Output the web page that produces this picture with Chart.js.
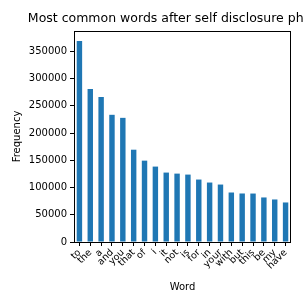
<!DOCTYPE html>
<html>
<head>
<meta charset="utf-8">
<script src="https://cdn.jsdelivr.net/npm/chart.js@4/dist/chart.umd.min.js"></script>
<style>
  html, body { margin: 0; padding: 0; background: #fff; }
  #wrap { width: 303px; height: 303px; }
</style>
</head>
<body>
<div id="wrap"><canvas id="wordChart" width="303" height="303"></canvas></div>
<script>
var words = ['to', 'the', 'a', 'and', 'you', 'that', 'of', 'i', 'it', 'not',
             'is', 'for', 'in', 'your', 'with', 'but', 'this', 'be', 'my', 'have'];
var frequency = [369000, 281000, 266500, 233600, 228000, 169500, 149400, 138500, 127500, 125600,
                 123800, 114700, 109200, 105500, 90900, 89100, 89000, 81800, 78100, 72600];
var yTicks = [0, 50000, 100000, 150000, 200000, 250000, 300000, 350000];
var chartTitle = 'Most common words after self disclosure phrases';

var fontFamily = "'DejaVu Sans', sans-serif";

// frame + title centred over the axes, like matplotlib
var framePlugin = {
  id: 'frame',
  afterDraw: function(chart) {
    var ctx = chart.ctx, a = chart.chartArea;
    ctx.save();
    ctx.strokeStyle = '#000';
    ctx.lineWidth = 1;
    ctx.strokeRect(Math.round(a.left) + 0.5, Math.round(a.top) + 0.5,
                   Math.round(a.right - a.left) - 1, Math.round(a.bottom - a.top));
    ctx.fillStyle = '#000';
    ctx.font = '12.5px ' + fontFamily;
    ctx.textAlign = 'center';
    ctx.textBaseline = 'alphabetic';
    ctx.fillText(chartTitle, (a.left + a.right) / 2, 22);
    ctx.restore();
  }
};

new Chart(document.getElementById('wordChart').getContext('2d'), {
  type: 'bar',
  data: {
    labels: words,
    datasets: [{
      data: frequency,
      backgroundColor: '#1f77b4',
      barPercentage: 0.5,
      categoryPercentage: 1.0
    }]
  },
  options: {
    responsive: false,
    animation: false,
    layout: { padding: { top: 31, right: 12, left: 0, bottom: 0 } },
    plugins: {
      legend: { display: false },
      tooltip: { enabled: false }
    },
    scales: {
      x: {
        offset: true,
        grid: { display: true, drawOnChartArea: false, color: '#000', tickLength: 4, offset: false },
        border: { display: false },
        ticks: {
          color: '#000',
          font: { family: fontFamily, size: 9.5 },
          maxRotation: 45, minRotation: 45,
          autoSkip: false,
          padding: 1
        },
        title: { display: true, text: 'Word', color: '#000', font: { family: fontFamily, size: 10 }, padding: { top: 2, bottom: 10 } },
        afterFit: function(scale) { scale.height = 61; }
      },
      y: {
        min: 0,
        max: 387500,
        grid: { display: true, drawOnChartArea: false, color: '#000', tickLength: 4 },
        border: { display: false },
        afterBuildTicks: function(scale) {
          scale.ticks = yTicks.map(function(v) { return { value: v }; });
        },
        ticks: {
          color: '#000',
          font: { family: fontFamily, size: 10 },
          padding: 3,
          callback: function(value) { return String(value); }
        },
        title: { display: true, text: 'Frequency', color: '#000', font: { family: fontFamily, size: 10 }, padding: { top: 11, bottom: 4 } },
        afterFit: function(scale) { scale.width = 74; }
      }
    }
  },
  plugins: [framePlugin]
});
</script>
</body>
</html>
